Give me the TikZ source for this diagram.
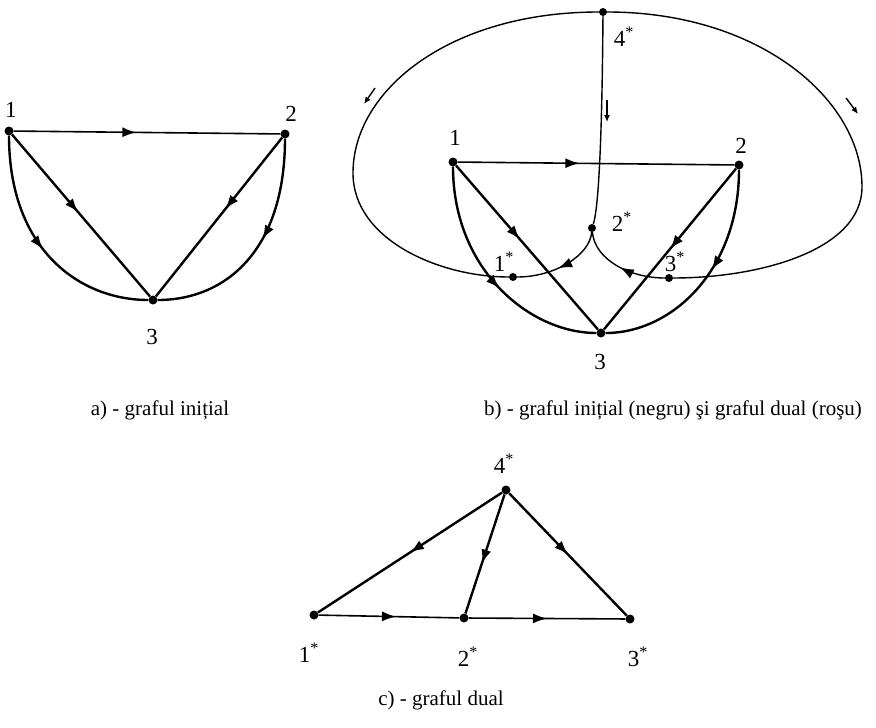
\documentclass[tikz,border=0pt]{standalone}
\usepackage{fontspec}
\setmainfont{Liberation Serif}
\usetikzlibrary{arrows.meta,decorations.markings}

\tikzset{
  dot/.style={circle,fill,inner sep=0pt,minimum size=9pt},
  lbl/.style={font=\fontsize{23}{26}\selectfont,inner sep=1pt},
  capt/.style={font=\fontsize{21}{25}\selectfont,inner sep=0pt},
  edge/.style={line width=2.4pt},
  dualedge/.style={line width=1.4pt},
  midarrow/.style={postaction={decorate},decoration={markings,
    mark=at position #1 with {\arrow{Latex[length=14pt,width=10pt]}}}},
  midarrow/.default=0.5,
  hint/.style={line width=1.4pt,-{Latex[length=7pt,width=6pt]}}
}

\begin{document}
\begin{tikzpicture}[x=1pt,y=-1pt]
\useasboundingbox (0,0) rectangle (876,728);

% a) initial graph
\node[dot] (a1) at (9,131) {};
\node[dot] (a2) at (285,134) {};
\node[dot] (a3) at (153,300) {};
\node[lbl] at (11,110) {1};
\node[lbl] at (291,114) {2};
\node[lbl] at (152,337) {3};
\draw[edge,line width=1.6pt,midarrow=0.46] (a1) -- (a2);
\draw[edge,midarrow=0.48] (a1) -- (a3);
\draw[edge,midarrow=0.45] (a2) -- (a3);
\draw[edge,midarrow=0.5] (a1) .. controls (9,250) and (80,300) .. (a3);
\draw[edge,midarrow=0.45] (a2) .. controls (285,250) and (226,300) .. (a3);

% b) initial graph with its dual
\node[dot] (b1) at (453,162) {};
\node[dot] (b2) at (739,165) {};
\node[dot] (b3) at (601,333) {};
\node[lbl] at (455,138) {1};
\node[lbl] at (741,146) {2};
\node[lbl] at (600,362) {3};
\draw[edge,line width=1.6pt,midarrow=0.44] (b1) -- (b2);
\draw[edge,midarrow=0.45] (b1) -- (b3);
\draw[edge,midarrow=0.5] (b2) -- (b3);
\draw[edge,midarrow=0.55] (b1) .. controls (453,270) and (530,333) .. (b3);
\draw[edge,midarrow=0.45] (b2) .. controls (739,270) and (672,333) .. (b3);

\node[dot,minimum size=8pt] (s4) at (603,12) {};
\node[dot,minimum size=8pt] (s2) at (592,228) {};
\node[dot,minimum size=8pt] (s1) at (513,277) {};
\node[dot,minimum size=8pt] (s3) at (669,278) {};
\node[lbl] at (624,37) {4\textsuperscript{*}};
\node[lbl] at (622,222) {2\textsuperscript{*}};
\node[lbl] at (504,262) {1\textsuperscript{*}};
\node[lbl] at (675,262) {3\textsuperscript{*}};
\draw[dualedge] (s4) .. controls (450,12) and (353,90) .. (353,173)
  .. controls (353,240) and (440,277) .. (s1);
\draw[dualedge] (s4) .. controls (760,12) and (862,100) .. (862,187)
  .. controls (862,250) and (760,278) .. (s3);
\draw[dualedge] (s4) .. controls (602,150) and (598,210) .. (s2);
\draw[dualedge,midarrow=0.55] (s2) .. controls (590,255) and (555,277) .. (s1);
\draw[dualedge,midarrow=0.5] (s3) .. controls (630,278) and (595,260) .. (s2);
\draw[hint] (375,88) -- (364,104);
\draw[hint] (846,98) -- (858,114);
\draw[hint] (607,100) -- (607,122);

% c) dual graph
\node[dot] (c4) at (506,490) {};
\node[dot] (c1) at (314,615) {};
\node[dot] (c2) at (464,618) {};
\node[dot] (c3) at (630,619) {};
\node[lbl] at (504,464) {4\textsuperscript{*}};
\node[lbl] at (309,653) {1\textsuperscript{*}};
\node[lbl] at (468,657) {2\textsuperscript{*}};
\node[lbl] at (638,657) {3\textsuperscript{*}};
\draw[edge,midarrow=0.5] (c4) -- (c1);
\draw[edge,midarrow=0.58] (c4) -- (c2);
\draw[edge,midarrow=0.5] (c4) -- (c3);
\draw[edge,line width=1.6pt,midarrow=0.55] (c1) -- (c2);
\draw[edge,line width=1.6pt,midarrow=0.5] (c2) -- (c3);

% captions
\node[capt] (ca) at (160,410) {a) - graful inițial};
\node[capt] (cb) at (673,410) {b) - graful inițial (negru) şi graful dual (roşu)};
\node[capt] (cc) at (441,700) {c) - graful dual};
\end{tikzpicture}
\end{document}
